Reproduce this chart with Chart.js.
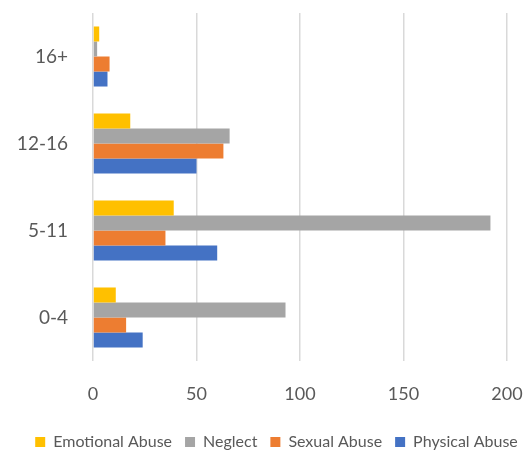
<!DOCTYPE html>
<html lang="en">
<head>
  <meta charset="UTF-8">
  <title>Abuse by Age Group</title>
  <script src="https://cdn.jsdelivr.net/npm/chart.js"></script>
  <style>
    * { margin: 0; padding: 0; box-sizing: border-box; }
    body { background: #FFFFFF; width: 529px; height: 451px; overflow: hidden; }
    #chartBox { position: relative; width: 529px; height: 451px; }
  </style>
</head>
<body>
  <div id="chartBox"><canvas id="abuseChart"></canvas></div>

  <script>
    // age groups, top to bottom as drawn
    const ageGroups = ['16+', '12-16', '5-11', '0-4'];

    const emotionalAbuse = [3, 18, 39, 11];
    const neglect        = [2, 66, 192, 93];
    const sexualAbuse    = [8, 63, 35, 16];
    const physicalAbuse  = [7, 50, 60, 24];

    const xTicks = [0, 50, 100, 150, 200];

    const textColor = '#595959';
    const gridColor = '#D9D9D9';

    // the legend sits a little right of the canvas centre in the original
    const shiftLegend = {
      id: 'shiftLegend',
      afterLayout(chart) {
        chart.legend.left += 12;
        chart.legend.right += 12;
      }
    };

    const ctx = document.getElementById('abuseChart').getContext('2d');
    new Chart(ctx, {
      type: 'bar',
      plugins: [shiftLegend],
      data: {
        labels: ageGroups,
        datasets: [
          { label: 'Emotional Abuse', data: emotionalAbuse, backgroundColor: '#FFC000' },
          { label: 'Neglect',         data: neglect,        backgroundColor: '#A5A5A5' },
          { label: 'Sexual Abuse',    data: sexualAbuse,    backgroundColor: '#ED7D31' },
          { label: 'Physical Abuse',  data: physicalAbuse,  backgroundColor: '#4472C4' }
        ]
      },
      options: {
        indexAxis: 'y',
        responsive: true,
        maintainAspectRatio: false,
        animation: false,
        layout: { padding: { top: 13, right: 0, bottom: -9, left: 0 } },
        datasets: {
          bar: { categoryPercentage: 0.69, barPercentage: 1.0, borderWidth: 0 }
        },
        scales: {
          x: {
            min: 0,
            max: 200,
            afterBuildTicks: axis => { axis.ticks = xTicks.map(v => ({ value: v })); },
            afterFit: axis => { axis.height = 60; axis.paddingLeft = 0; axis.paddingRight = 22; },
            grid: { color: gridColor, lineWidth: 1.5, drawTicks: false },
            border: { display: false },
            ticks: { color: textColor, font: { family: 'Lato', size: 18 }, padding: 22 }
          },
          y: {
            afterFit: axis => { axis.width = 93; axis.paddingTop = 0; axis.paddingBottom = 0; },
            grid: { display: false, drawTicks: false },
            border: { display: false },
            ticks: { color: textColor, font: { family: 'Lato', size: 19 }, padding: 25 }
          }
        },
        plugins: {
          legend: {
            position: 'bottom',
            labels: {
              color: textColor,
              font: { family: 'Lato', size: 16 },
              boxWidth: 10,
              boxHeight: 10,
              padding: 13
            }
          },
          tooltip: { enabled: false }
        }
      }
    });
  </script>
</body>
</html>
